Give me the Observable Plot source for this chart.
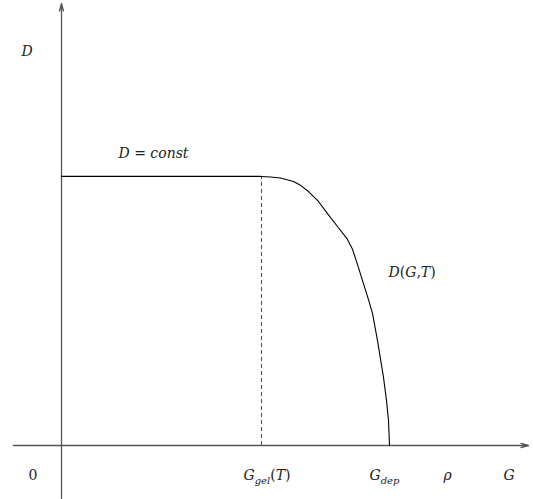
<!DOCTYPE html>
<html>
<head>
<meta charset="utf-8">
<script src="https://cdn.jsdelivr.net/npm/d3@7"></script>
<script src="https://cdn.jsdelivr.net/npm/@observablehq/plot@0.6"></script>
<style>
  html, body { margin: 0; padding: 0; background: #fff; }
  #chart svg { display: block; }
</style>
</head>
<body>
<div id="chart"></div>
<script>
// Diffusion coefficient D against gel content G (schematic, arbitrary units)
const gGel = 1.0;          // onset of gelation G_gel(T)
const gDep = 1.64;         // G_dep, where D drops to zero
const dConst = 1.0;        // plateau value of D

// D(G,T) branch beyond the gel point
const curveG = [1.0, 1.045, 1.095, 1.16, 1.195, 1.235, 1.285, 1.33, 1.38, 1.43, 1.455, 1.48, 1.505, 1.53, 1.555, 1.58, 1.61, 1.625, 1.635, 1.64];
const curveD = [1.0, 0.998, 0.994, 0.981, 0.967, 0.944, 0.907, 0.862, 0.814, 0.766, 0.729, 0.673, 0.613, 0.554, 0.491, 0.390, 0.253, 0.167, 0.093, 0.0];

// axis extents (with arrow heads at the far ends)
const xAxisFrom = -0.24, xAxisTo = 2.335;
const yAxisFrom = -0.197, yAxisTo = 1.643;

// labels: text (with _{...} for subscripts), position
const labelText = ["D", "D = const", "D(G,T)", "0", "G_{gel}(T)", "G_{dep}", "ρ", "G"];
const labelG    = [-0.2, 0.285, 1.635, -0.165, 0.91, 1.54, 1.91, 2.21];
const labelD    = [1.465, 1.086, 0.643, -0.1115, -0.1115, -0.1115, -0.1115, -0.1115];

const serif = "'DejaVu Serif', serif";

const curve = curveG.map((g, i) => ({G: g, D: curveD[i]}));
const labels = labelText.map((t, i) => ({t, G: labelG[i], D: labelD[i]}));
const axes = [
  {x1: xAxisFrom, y1: 0, x2: xAxisTo, y2: 0},
  {x1: 0, y1: yAxisFrom, x2: 0, y2: yAxisTo}
];

const chart = Plot.plot({
  width: 533,
  height: 499,
  margin: 0,
  x: {domain: [-0.305, 2.36], axis: null},
  y: {domain: [-0.2007, 1.654], axis: null},
  style: {background: "#fff", fontFamily: serif},
  marks: [
    Plot.arrow(axes, {x1: "x1", y1: "y1", x2: "x2", y2: "y2",
      stroke: "#555", strokeWidth: 1.3, headLength: 9, headAngle: 30, bend: 0}),
    Plot.ruleY([dConst], {x1: 0, x2: gGel, stroke: "#000", strokeWidth: 1.2}),
    Plot.ruleX([gGel], {y1: 0, y2: dConst, stroke: "#555", strokeWidth: 1.1, strokeDasharray: "4,3"}),
    Plot.line(curve, {x: "G", y: "D", stroke: "#000", strokeWidth: 1.1, curve: "linear"}),
    Plot.text(labels, {x: "G", y: "D", text: "t", textAnchor: "start", lineAnchor: "middle",
      fontSize: 14, fontStyle: "italic", fill: "#222"})
  ]
});

// render _{...} as subscript tspans; keep digits/punctuation upright
d3.select(chart).selectAll("text").each(function () {
  const el = d3.select(this).style("font-family", serif);
  const raw = el.text();
  if (!raw.includes("_{") && !/[=(),0]/.test(raw)) return;
  el.text("");
  const parts = raw.split(/(_\{[^}]*\}|[=(),0])/).filter(s => s.length);
  let shifted = false;
  for (const p of parts) {
    if (p.startsWith("_{")) {
      el.append("tspan").attr("font-size", 10).attr("dy", shifted ? 0 : 4).text(p.slice(2, -1));
      shifted = true;
    } else {
      const ts = el.append("tspan").attr("dy", shifted ? -4 : 0).text(p);
      shifted = false;
      if (/[=(),0]/.test(p)) ts.attr("font-style", "normal");
    }
  }
});

document.getElementById("chart").appendChild(chart);
</script>
</body>
</html>
